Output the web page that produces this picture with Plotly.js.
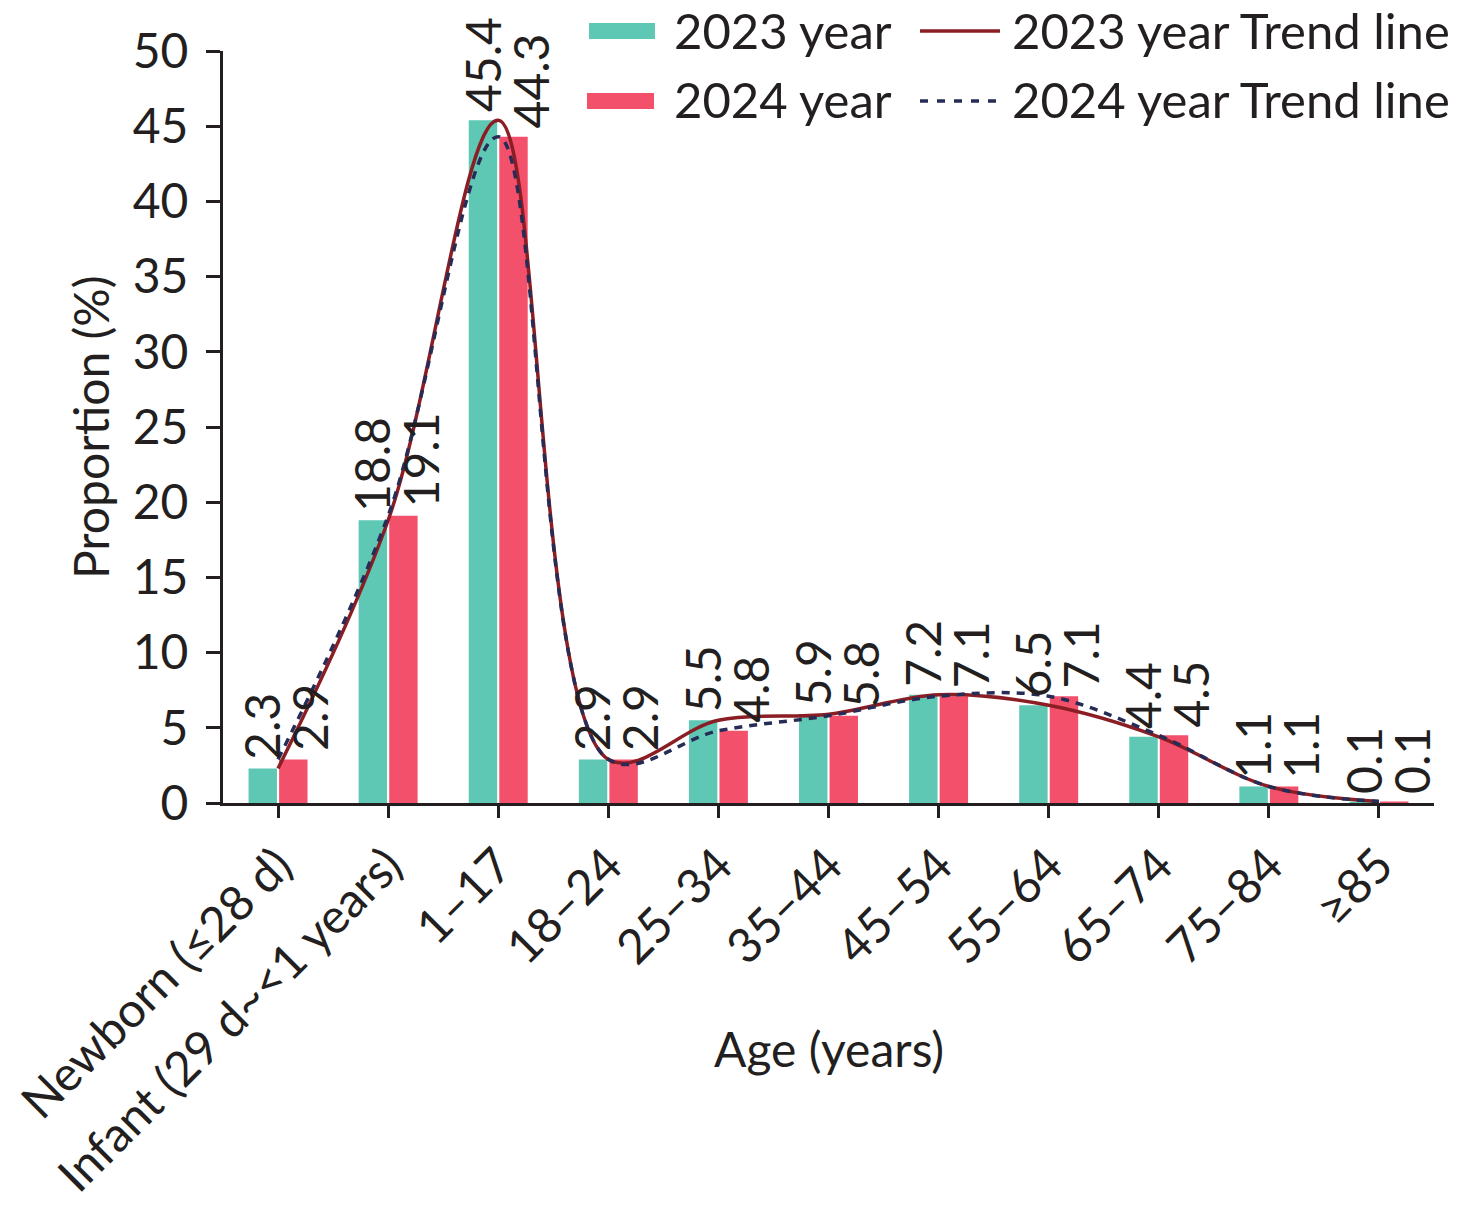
<!DOCTYPE html>
<html>
<head>
<meta charset="utf-8">
<script src="https://cdn.plot.ly/plotly-3.0.1.min.js"></script>
<style>
  html, body { margin: 0; padding: 0; background: #fff; }
  #chart { width: 1476px; height: 1215px; }
</style>
</head>
<body>
<div id="chart"></div>
<script>
const ageGroups = ['Newborn (≤28 d)', 'Infant (29 d~<1 years)', '1–17', '18–24', '25–34',
                   '35–44', '45–54', '55–64', '65–74', '75–84', '≥85'];
const share2023 = [2.3, 18.8, 45.4, 2.9, 5.5, 5.9, 7.2, 6.5, 4.4, 1.1, 0.1];
const share2024 = [2.9, 19.1, 44.3, 2.9, 4.8, 5.8, 7.1, 7.1, 4.5, 1.1, 0.1];
const yTicks = [0, 5, 10, 15, 20, 25, 30, 35, 40, 45, 50];

const teal = '#5ec8b4';
const coral = '#f2506b';
const trendRed = '#8b1e24';
const trendNavy = '#262c55';
const ink = '#231f20';
const font = 'Lato, "Open Sans", sans-serif';
const fs = 48;

// plot box in pixels, used to place the hand-made legend
const L = 223, R = 1434, T = 51, B = 803;
const px = x => (x - L) / (R - L);
const py = y => (B - y) / (B - T);

const traces = [
    {
        type: 'bar', x: ageGroups, y: share2023, name: '2023 year',
        marker: { color: teal, line: { width: 0 } },
        hoverinfo: 'skip', showlegend: false
    },
    {
        type: 'bar', x: ageGroups, y: share2024, name: '2024 year',
        marker: { color: coral, line: { width: 0 } },
        hoverinfo: 'skip', showlegend: false
    },
    {
        type: 'scatter', mode: 'lines', x: ageGroups, y: share2023,
        name: '2023 year Trend line',
        line: { color: trendRed, width: 3.5, shape: 'spline', smoothing: 1 },
        cliponaxis: false, hoverinfo: 'skip', showlegend: false
    },
    {
        type: 'scatter', mode: 'lines', x: ageGroups, y: share2024,
        name: '2024 year Trend line',
        line: { color: trendNavy, width: 3.5, shape: 'spline', smoothing: 1, dash: '8px,7px' },
        cliponaxis: false, hoverinfo: 'skip', showlegend: false
    }
];

// value labels standing on the bars, 2024 ones nudged right as in the original
const valueLabels = (vals, shift) => vals.map((v, i) => ({
    text: v.toFixed(1), x: ageGroups[i], y: v, xref: 'x', yref: 'y',
    xanchor: 'center', yanchor: 'bottom', xshift: shift, yshift: 6,
    textangle: -90, showarrow: false,
    font: { family: font, size: fs, color: ink }
}));

const legendText = (txt, x, y) => ({
    text: txt, xref: 'paper', yref: 'paper', x: px(x), y: py(y),
    xanchor: 'left', yanchor: 'middle', showarrow: false, borderpad: 0,
    font: { family: font, size: 49, color: ink }
});

const layout = {
    width: 1476, height: 1215,
    margin: { l: L, r: 1476 - R, t: T, b: 1215 - B },
    paper_bgcolor: '#fff', plot_bgcolor: '#fff',
    barmode: 'group', bargap: 0.445, bargroupgap: 0.07,
    showlegend: false,
    font: { family: font, size: fs, color: ink },
    xaxis: {
        type: 'category', range: [-0.5, 10.5],
        showline: true, linecolor: ink, linewidth: 3,
        ticks: 'outside', ticklen: 12, tickwidth: 3, tickcolor: ink,
        tickangle: -45, tickfont: { family: font, size: fs, color: ink },
        showgrid: false, zeroline: false
    },
    yaxis: {
        range: [0, 50], tickvals: yTicks,
        showline: true, linecolor: ink, linewidth: 3,
        ticks: 'outside', ticklen: 14, tickwidth: 3, tickcolor: ink,
        ticklabelstandoff: 8,
        tickfont: { family: font, size: fs, color: ink },
        showgrid: false, zeroline: false
    },
    shapes: [
        { type: 'rect', xref: 'paper', yref: 'paper', x0: px(589), x1: px(655), y0: py(39), y1: py(23),
          fillcolor: teal, line: { width: 0 } },
        { type: 'rect', xref: 'paper', yref: 'paper', x0: px(587), x1: px(654), y0: py(109), y1: py(93),
          fillcolor: coral, line: { width: 0 } },
        { type: 'line', xref: 'paper', yref: 'paper', x0: px(920), x1: px(1000), y0: py(31), y1: py(31),
          line: { color: trendRed, width: 3.5 } },
        { type: 'line', xref: 'paper', yref: 'paper', x0: px(920), x1: px(1000), y0: py(101), y1: py(101),
          line: { color: trendNavy, width: 3.5, dash: '8px,9px' } }
    ],
    annotations: [
        ...valueLabels(share2023, -16),
        ...valueLabels(share2024, 32),
        legendText('2023 year', 673, 30),
        legendText('2024 year', 673, 99),
        legendText('2023 year Trend line', 1011, 30),
        legendText('2024 year Trend line', 1011, 99),
        { text: 'Age (years)', xref: 'paper', yref: 'paper', x: 0.5, y: py(1048),
          xanchor: 'center', yanchor: 'middle', showarrow: false,
          font: { family: font, size: fs, color: ink } },
        { text: 'Proportion (%)', xref: 'paper', yref: 'paper', x: px(90), y: 0.5,
          xanchor: 'center', yanchor: 'middle', textangle: -90, showarrow: false,
          font: { family: font, size: fs, color: ink } }
    ]
};

Plotly.newPlot('chart', traces, layout, { displayModeBar: false, staticPlot: true });
</script>
</body>
</html>
